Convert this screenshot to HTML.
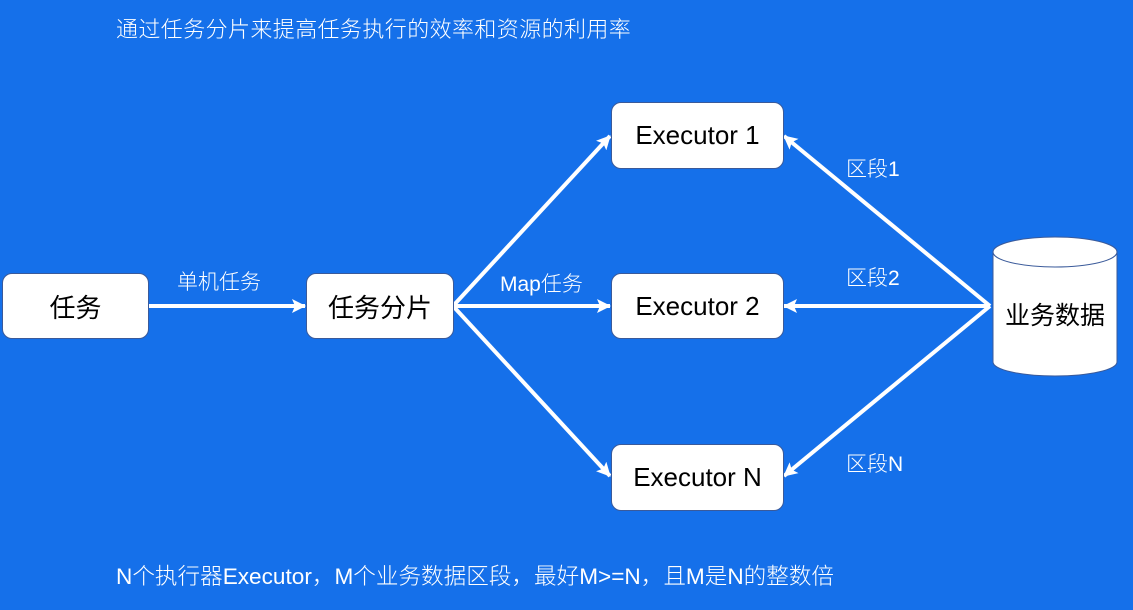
<!DOCTYPE html>
<html><head><meta charset="utf-8"><style>
body{margin:0;width:1133px;height:610px;background:#1570EA;overflow:hidden;position:relative;font-family:"Liberation Sans","Noto Sans CJK SC",sans-serif;}
.t{position:absolute;color:#fff;white-space:nowrap;font-weight:300}
.b{position:absolute;background:#fff;border-radius:10px;display:flex;align-items:center;justify-content:center;color:#000;font-size:26px;border:1px solid #3a5a9a;box-sizing:border-box}
</style></head><body>
<div class="t" style="left:116px;top:12px;font-size:22px;letter-spacing:0.4px">通过任务分片来提高任务执行的效率和资源的利用率</div>
<div class="t" style="left:116px;top:558px;font-size:22.6px">N个执行器Executor，M个业务数据区段，最好M&gt;=N，且M是N的整数倍</div>
<svg width="1133" height="610" style="position:absolute;left:0;top:0">
<defs><marker id="a" markerWidth="14" markerHeight="14" refX="13" refY="7" orient="auto" markerUnits="userSpaceOnUse"><path d="M0,0 L14,7 L0,14 L3,7 z" fill="#fff"/></marker></defs>
<g stroke="#fff" stroke-width="4" fill="none" marker-end="url(#a)">
<line x1="148" y1="306" x2="305" y2="306"/>
<line x1="453" y1="306" x2="610" y2="136"/>
<line x1="453" y1="306" x2="610" y2="306"/>
<line x1="453" y1="306" x2="610" y2="476"/>
<line x1="990" y1="306" x2="784" y2="136"/>
<line x1="990" y1="306" x2="784" y2="306"/>
<line x1="990" y1="306" x2="784" y2="476"/>
</g>
<path d="M993,252 L993,362 A62,14 0 0 0 1117,362 L1117,252" fill="#fff" stroke="#3a5a9a"/>
<ellipse cx="1055" cy="252" rx="62" ry="15" fill="#fff" stroke="#3a5a9a"/>
<text x="1055" y="324" text-anchor="middle" font-size="25" font-family="Liberation Sans,Noto Sans CJK SC,sans-serif">业务数据</text>
</svg>
<div class="b" style="left:2px;top:273px;width:147px;height:66px">任务</div>
<div class="b" style="left:306px;top:273px;width:148px;height:66px">任务分片</div>
<div class="b" style="left:611px;top:102px;width:173px;height:67px">Executor 1</div>
<div class="b" style="left:611px;top:273px;width:173px;height:66px">Executor 2</div>
<div class="b" style="left:611px;top:444px;width:173px;height:67px">Executor N</div>
<div class="t" style="left:177px;top:266px;font-size:21px">单机任务</div>
<div class="t" style="left:500px;top:268px;font-size:21px">Map任务</div>
<div class="t" style="left:846px;top:153px;font-size:21px">区段1</div>
<div class="t" style="left:846px;top:262px;font-size:21px">区段2</div>
<div class="t" style="left:846px;top:448px;font-size:21px">区段N</div>
</body></html>
